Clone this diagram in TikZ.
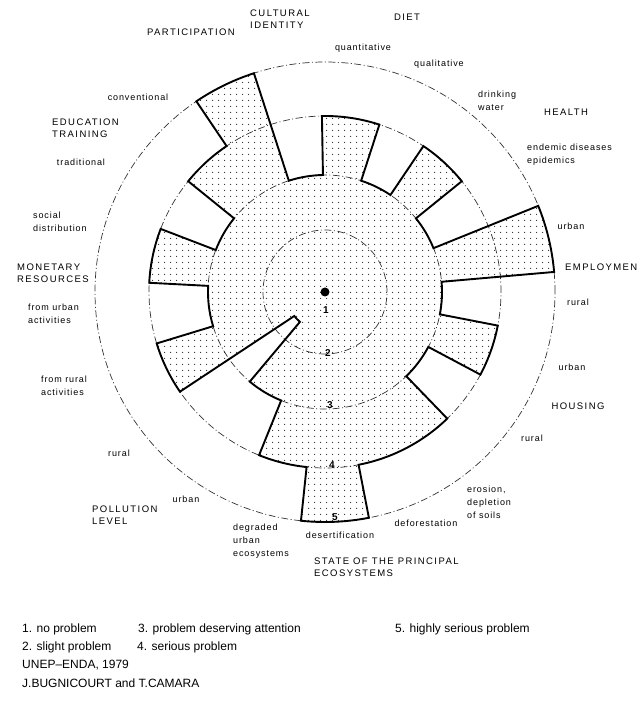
\documentclass[tikz,border=0pt]{standalone}
\usepackage{fontspec}
\setmainfont{Liberation Sans}
\newfontfamily\capsfont[LetterSpace=15]{Liberation Sans}
\newfontfamily\smallfont[LetterSpace=10]{Liberation Sans}
\usetikzlibrary{patterns}
\pgfdeclarepatternformonly{stipple}{\pgfpointorigin}{\pgfpoint{6pt}{6pt}}{\pgfpoint{6pt}{6pt}}{\pgfpathcircle{\pgfpoint{3pt}{3pt}}{0.75pt}\pgfusepath{fill}}
\tikzset{
  ring/.style={line width=0.7pt, dash pattern=on 7pt off 2.5pt on 1pt off 2.5pt, black!80},
  outline/.style={line width=1.9pt, line join=miter},
  catlab/.style={font=\capsfont\fontsize{9.5}{12}\selectfont, inner sep=0pt, align=left},
  sublab/.style={font=\smallfont\fontsize{9}{13}\selectfont, inner sep=0pt, align=left},
  leg/.style={font=\fontsize{12}{14}\selectfont, inner sep=0pt, anchor=west},
  numlab/.style={font=\fontsize{10}{11}\selectfont\bfseries, inner sep=0pt}
}
\begin{document}
\begin{tikzpicture}[x=1pt,y=1pt]
\useasboundingbox (-325,-411) rectangle (315,292);
% rings
\draw[ring] (0,0) circle[radius=62];
\draw[ring] (0,0) circle[radius=117];
\draw[ring] (0,0) circle[radius=176];
\draw[ring] (0,0) circle[radius=230];
% profile
\draw[outline, pattern=stipple, pattern color=black!85]
 (124:230) arc[start angle=124, end angle=108, radius=230]
 -- (108:117) arc[start angle=108, end angle=91, radius=117]
 -- (91:176) arc[start angle=91, end angle=72, radius=176]
 -- (72:117) arc[start angle=72, end angle=56, radius=117]
 -- (56:176) arc[start angle=56, end angle=39, radius=176]
 -- (39:117) arc[start angle=39, end angle=22, radius=117]
 -- (22:230) arc[start angle=22, end angle=5, radius=230]
 -- (5:117) arc[start angle=5, end angle=-11, radius=117]
 -- (-11:176) arc[start angle=-11, end angle=-28, radius=176]
 -- (-28:117) arc[start angle=-28, end angle=-46, radius=117]
 -- (-46:176) arc[start angle=-46, end angle=-79, radius=176]
 -- (-79:230) arc[start angle=-79, end angle=-96, radius=230]
 -- (-96:176) arc[start angle=-96, end angle=-112, radius=176]
 -- (-112:117) arc[start angle=-112, end angle=-130, radius=117]
 -- (-130:39) arc[start angle=-130, end angle=-142, radius=39]
 -- (-145.5:176) arc[start angle=-145.5, end angle=-163, radius=176]
 -- (-163:117) arc[start angle=-163, end angle=-183, radius=117]
 -- (-183:176) arc[start angle=-183, end angle=-201, radius=176]
 -- (-201:117) arc[start angle=-201, end angle=-219, radius=117]
 -- (-219:176) arc[start angle=-219, end angle=-236, radius=176]
 -- cycle;
\fill (0,0) circle[radius=4.5];
% level numbers
\node[numlab] (n1) at (1,-18) {1};
\node[numlab] (n2) at (3,-61) {2};
\node[numlab] (n3) at (5,-113) {3};
\node[numlab] (n4) at (7,-173) {4};
\node[numlab] (n5) at (10,-225) {5};
% category labels
\node[catlab] (part) at (-134,260) {PARTICIPATION};
\node[catlab, anchor=west] (cult) at (-75,273) {CULTURAL\\IDENTITY};
\node[catlab] (diet) at (82,275) {DIET};
\node[sublab] (quant) at (38,244) {quantitative};
\node[sublab] (qual) at (114,228) {qualitative};
\node[sublab, anchor=west] (drink) at (153,191) {drinking\\water};
\node[catlab] (health) at (241,180) {HEALTH};
\node[sublab, anchor=west] (endem) at (202,137.5) {endemic diseases\\epidemics};
\node[sublab] (eurb) at (246,66) {urban};
\node[catlab, anchor=west] (empl) at (240,25) {EMPLOYMEN};
\node[sublab] (erur) at (253,-10) {rural};
\node[sublab] (hurb) at (247,-75) {urban};
\node[catlab] (hous) at (253,-114) {HOUSING};
\node[sublab] (hrur) at (207,-146) {rural};
\node[sublab, anchor=west] (eros) at (142,-210) {erosion,\\depletion\\of soils};
\node[sublab] (defo) at (101,-231) {deforestation};
\node[sublab] (dese) at (15,-243) {desertification};
\node[catlab, anchor=west] (state) at (-11,-275.5) {STATE OF THE PRINCIPAL\\ECOSYSTEMS};
\node[sublab, anchor=west] (degr) at (-92,-249.5) {degraded\\urban\\ecosystems};
\node[catlab, anchor=west] (poll) at (-233,-223) {POLLUTION\\LEVEL};
\node[sublab] (purb) at (-139,-207) {urban};
\node[sublab] (prur) at (-206,-161) {rural};
\node[sublab, anchor=west] (frur) at (-284,-94) {from rural\\activities};
\node[sublab, anchor=west] (furb) at (-297,-22) {from urban\\activities};
\node[catlab, anchor=west] (mone) at (-308,18.5) {MONETARY\\RESOURCES};
\node[sublab, anchor=west] (soc) at (-292,70.5) {social\\distribution};
\node[sublab] (trad) at (-244,130) {traditional};
\node[catlab, anchor=west] (edu) at (-273,164) {EDUCATION\\TRAINING};
\node[sublab] (conv) at (-187,195) {conventional};
% legend
\node[leg] (l1) at (-303,-337) {1. no problem};
\node[leg] (l3) at (-187,-337) {3. problem deserving attention};
\node[leg] (l5) at (70,-337) {5. highly serious problem};
\node[leg] (l2) at (-303,-355) {2. slight problem};
\node[leg] (l4) at (-188,-355) {4. serious problem};
\node[leg] (src) at (-303,-373) {UNEP--ENDA, 1979};
\node[leg] (auth) at (-303,-391) {J.BUGNICOURT and T.CAMARA};
\end{tikzpicture}
\end{document}
